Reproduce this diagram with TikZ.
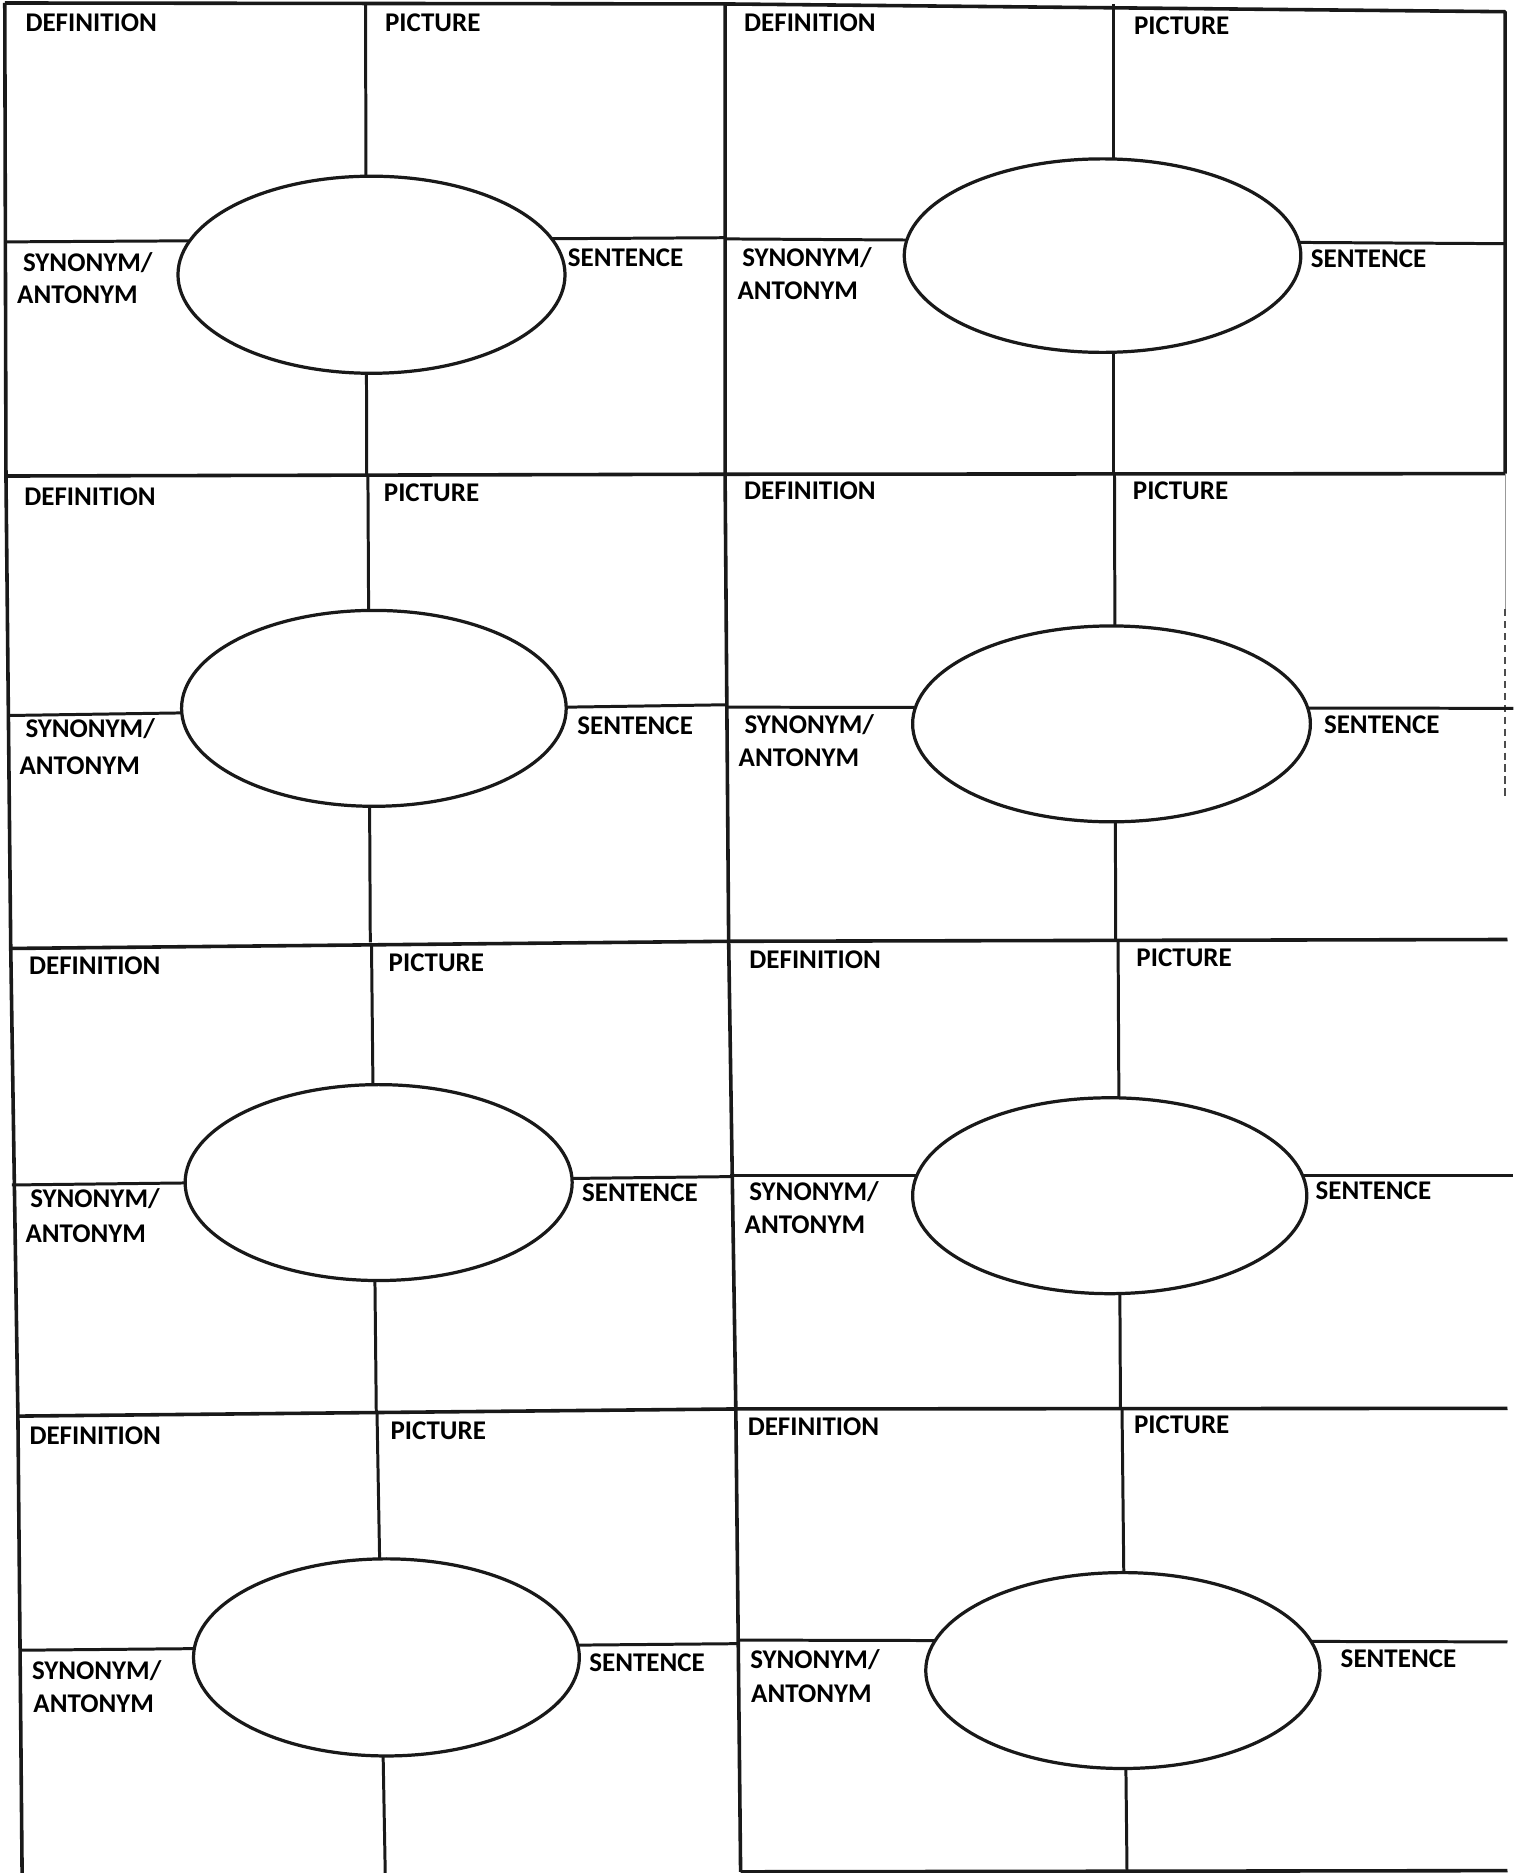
\documentclass[tikz,border=0pt]{standalone}
\usepackage{fontspec}
\setmainfont{Carlito}
\usetikzlibrary{shapes.geometric}
\tikzset{
  gridline/.style={line width=1.5pt, draw=black!90, line join=round},
  cellline/.style={line width=1.25pt, draw=black!90},
  hub/.style={ellipse, draw=black!90, line width=1.35pt, fill=white, inner sep=0pt},
  lbl/.style={anchor=base west, inner sep=0pt, font=\fontsize{11.3}{13}\selectfont\bfseries, text=black},
}
\begin{document}
\begin{tikzpicture}[x=0.5pt, y=-0.5pt]
\useasboundingbox (0,0) rectangle (1267,1568);
\fill[white] (0,0) rectangle (1267,1568);

% ---- grid coordinates ----
\coordinate (tl) at (4,2.5);
\coordinate (tm) at (607,3.3);
\coordinate (tr) at (1260,9.8);
\coordinate (l1) at (5,398.5);
\coordinate (m1) at (607,397);
\coordinate (r1) at (1260,396.5);
\coordinate (l2) at (9,794);
\coordinate (m2) at (610,788);
\coordinate (r2) at (1262,786.5);
\coordinate (l3) at (15,1185.5);
\coordinate (m3) at (616,1179.5);
\coordinate (r3) at (1262,1179);
\coordinate (lb) at (18.5,1568);
\coordinate (mb) at (620,1567);
\coordinate (rb) at (1262,1566);
\coordinate (rf1) at (1260,510);
\coordinate (rf2) at (1260,669);

% outer frame and separators
\draw[gridline] (tl) -- (tm) -- (tr) -- (r1);
\draw[gridline] (tl) -- (l1) -- (l2) -- (l3) -- (lb);
\draw[gridline] (tm) -- (m1) -- (m2) -- (m3) -- (mb);
\draw[gridline] (l1) -- (m1) -- (r1);
\draw[gridline] (l2) -- (m2) -- (r2);
\draw[gridline] (l3) -- (m3) -- (r3);
\draw[gridline] (mb) -- (rb);
\draw[line width=0.5pt, draw=black!40] (r1) -- (rf1);
\draw[line width=0.6pt, draw=black!70, dash pattern=on 3pt off 2pt] (rf1) -- (rf2);

% ---- cell lines (coordinates) ----
% row 1
\coordinate (v1a) at (306,2.5);   \coordinate (v1b) at (307,397.5);
\coordinate (h1a) at (4,202.5);   \coordinate (h1b) at (607,199);
\coordinate (v2a) at (932,3.3);   \coordinate (v2b) at (932,397);
\coordinate (h2a) at (607,200);   \coordinate (h2b) at (1260,204);
% row 2
\coordinate (v3a) at (308,397.5); \coordinate (v3b) at (310,789);
\coordinate (h3a) at (6,599);     \coordinate (h3b) at (608,590);
\coordinate (v4a) at (933,397);   \coordinate (v4b) at (934,787.5);
\coordinate (h4a) at (608,592);   \coordinate (h4b) at (1267,593);
% row 3
\coordinate (v5a) at (311,790);   \coordinate (v5b) at (315,1182);
\coordinate (h5a) at (10,992);    \coordinate (h5b) at (612,985);
\coordinate (v6a) at (936,787.5); \coordinate (v6b) at (938,1179.5);
\coordinate (h6a) at (611,984);   \coordinate (h6b) at (1267,984);
% row 4
\coordinate (v7a) at (315.6,1182); \coordinate (v7b) at (322.5,1568);
\coordinate (h7a) at (16,1381.5);  \coordinate (h7b) at (617,1376);
\coordinate (v8a) at (939.3,1179); \coordinate (v8b) at (943.5,1568);
\coordinate (h8a) at (617,1373);   \coordinate (h8b) at (1262,1374.5);

\foreach \i in {1,...,8} {
  \draw[cellline] (v\i a) -- (v\i b);
  \draw[cellline] (h\i a) -- (h\i b);
}

% ---- ellipses ----
\node[hub, minimum width=162pt,   minimum height=82.5pt] (e1) at (311,230) {};
\node[hub, minimum width=166pt,   minimum height=81pt]   (e2) at (923,214) {};
\node[hub, minimum width=161pt,   minimum height=82pt]   (e3) at (313,593) {};
\node[hub, minimum width=166.5pt, minimum height=82pt]   (e4) at (930.5,606) {};
\node[hub, minimum width=162pt,   minimum height=82pt]   (e5) at (317,990) {};
\node[hub, minimum width=165pt,   minimum height=82pt]   (e6) at (929,1001) {};
\node[hub, minimum width=161.5pt, minimum height=82.5pt] (e7) at (323.5,1387.5) {};
\node[hub, minimum width=165pt,   minimum height=82pt]   (e8) at (940,1398.5) {};

% ---- labels ----
% row 1 left
\node[lbl] (d1) at (21,26) {DEFINITION};
\node[lbl] (p1) at (322,26) {PICTURE};
\node[lbl] (s1) at (19,227) {SYNONYM/};
\node[lbl] (a1) at (14,254) {ANTONYM};
\node[lbl] (n1) at (475,223) {SENTENCE};
% row 1 right
\node[lbl] (d2) at (622.6,26.5) {DEFINITION};
\node[lbl] (p2) at (949,29) {PICTURE};
\node[lbl] (s2) at (621,223.5) {SYNONYM/};
\node[lbl] (a2) at (617,251) {ANTONYM};
\node[lbl] (n2) at (1097,224) {SENTENCE};
% row 2 left
\node[lbl] (d3) at (20,423) {DEFINITION};
\node[lbl] (p3) at (321,420) {PICTURE};
\node[lbl] (s3) at (21,617) {SYNONYM/};
\node[lbl] (a3) at (16,648) {ANTONYM};
\node[lbl] (n3) at (483,615) {SENTENCE};
% row 2 right
\node[lbl] (d4) at (622.6,418.4) {DEFINITION};
\node[lbl] (p4) at (948,418) {PICTURE};
\node[lbl] (s4) at (623,614) {SYNONYM/};
\node[lbl] (a4) at (618,642) {ANTONYM};
\node[lbl] (n4) at (1108,614) {SENTENCE};
% row 3 left
\node[lbl] (d5) at (24,816) {DEFINITION};
\node[lbl] (p5) at (325,813) {PICTURE};
\node[lbl] (s5) at (25,1011) {SYNONYM/};
\node[lbl] (a5) at (21,1040) {ANTONYM};
\node[lbl] (n5) at (487,1006) {SENTENCE};
% row 3 right
\node[lbl] (d6) at (627,811) {DEFINITION};
\node[lbl] (p6) at (951,809) {PICTURE};
\node[lbl] (s6) at (627,1005) {SYNONYM/};
\node[lbl] (a6) at (623,1033) {ANTONYM};
\node[lbl] (n6) at (1101,1004) {SENTENCE};
% row 4 left
\node[lbl] (d7) at (24.3,1209) {DEFINITION};
\node[lbl] (p7) at (326.6,1205) {PICTURE};
\node[lbl] (s7) at (26.4,1406) {SYNONYM/};
\node[lbl] (a7) at (27.6,1434) {ANTONYM};
\node[lbl] (n7) at (493,1399) {SENTENCE};
% row 4 right
\node[lbl] (d8) at (625.6,1202) {DEFINITION};
\node[lbl] (p8) at (949,1200) {PICTURE};
\node[lbl] (s8) at (627.7,1397) {SYNONYM/};
\node[lbl] (a8) at (628.5,1425) {ANTONYM};
\node[lbl] (n8) at (1122,1396) {SENTENCE};
\end{tikzpicture}
\end{document}
